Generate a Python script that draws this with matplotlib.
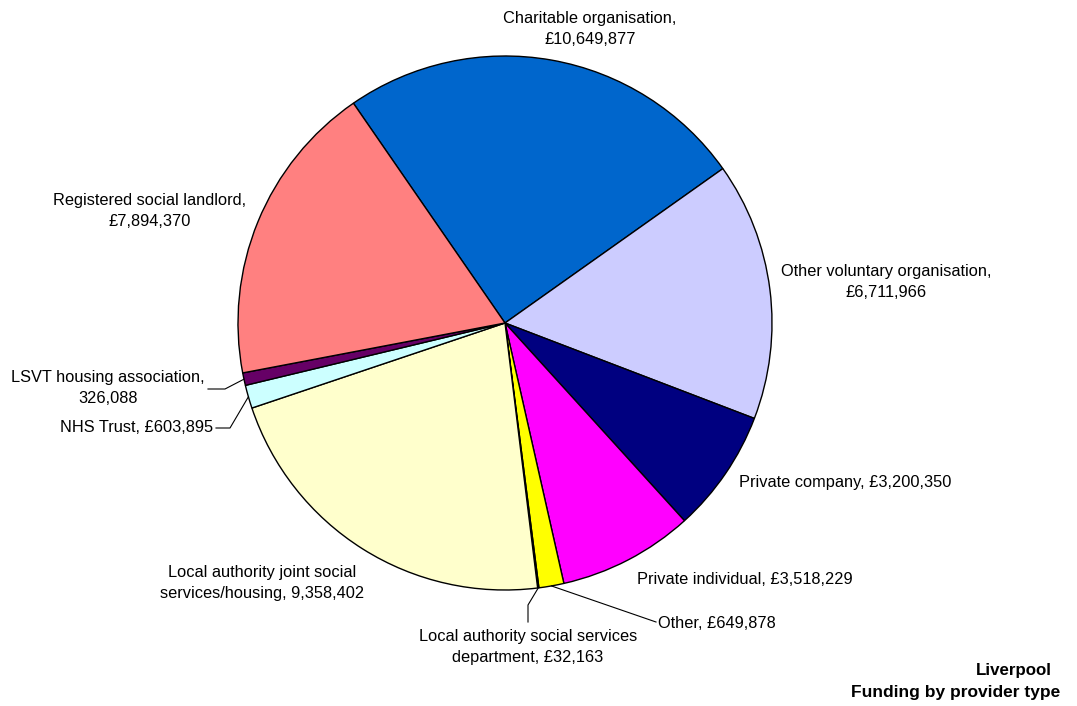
import matplotlib.pyplot as plt
import numpy as np

plt.rcParams['font.family'] = ['Liberation Sans', 'DejaVu Sans']

# funding per provider type, clockwise order
providers = ['Charitable organisation', 'Other voluntary organisation',
             'Private company', 'Private individual', 'Other',
             'Local authority social services department',
             'Local authority joint social services/housing',
             'NHS Trust', 'LSVT housing association',
             'Registered social landlord']
funding = [10649877, 6711966, 3200350, 3518229, 649878,
           32163, 9358402, 603895, 326088, 7894370]
labels = ['Charitable organisation,\n£10,649,877',
          'Other voluntary organisation,\n£6,711,966',
          'Private company, £3,200,350',
          'Private individual, £3,518,229',
          'Other, £649,878',
          'Local authority social services\ndepartment, £32,163',
          'Local authority joint social\nservices/housing, 9,358,402',
          'NHS Trust, £603,895',
          'LSVT housing association,\n326,088',
          'Registered social landlord,\n£7,894,370']
colors = ['#0066CC', '#CCCCFF', '#000080', '#FF00FF', '#FFFF00',
          '#00FFFF', '#FFFFCC', '#CCFFFF', '#660066', '#FF8080']

W, H = 1077, 706
fig = plt.figure(figsize=(W / 100, H / 100), dpi=100)
ax = fig.add_axes([0, 0, 1, 1])

cx, cy, r = 505, H - 323, 267
start = 124.6
wedges, _ = ax.pie(funding, colors=colors, startangle=start, counterclock=False,
                   center=(cx, cy), radius=r, frame=True,
                   wedgeprops=dict(edgecolor='black', linewidth=1.0))
ax.set_xlim(0, W)
ax.set_ylim(0, H)
ax.set_aspect('equal')
ax.axis('off')

# label positions (x, y from top, horizontal alignment)
pos = [(590, 29, 'center'), (886, 282, 'center'), (739, 483, 'left'),
       (637, 579, 'left'), (658, 623, 'left'), (528, 647, 'center'),
       (262, 583, 'center'), (213, 428, 'right'), (108, 388, 'center'),
       (150, 211, 'center')]
for lab, (x, y, ha) in zip(labels, pos):
    ax.text(x, H - y, lab, ha=ha, va='center', fontsize=11.8,
            linespacing=1.5)

# leader lines for the thin slices
def edge_point(i):
    a0 = start - 360 * sum(funding[:i]) / sum(funding)
    a1 = start - 360 * sum(funding[:i + 1]) / sum(funding)
    a = np.deg2rad((a0 + a1) / 2)
    return cx + r * np.cos(a), cy + r * np.sin(a)

leaders = {4: [(656, 622)],
           5: [(528, 605), (528, 622)],
           7: [(230, 428), (216, 428)],
           8: [(225, 389), (208, 389)]}
for i, pts in leaders.items():
    x0, y0 = edge_point(i)
    xs = [x0] + [p[0] for p in pts]
    ys = [y0] + [H - p[1] for p in pts]
    ax.plot(xs, ys, color='black', linewidth=0.8)

ax.text(1052, H - 670, 'Liverpool', ha='right', va='center',
        fontsize=12.2, fontweight='bold')
ax.text(1060, H - 692, 'Funding by provider type', ha='right', va='center',
        fontsize=12.5, fontweight='bold')

fig.savefig('out.png', dpi=100)
